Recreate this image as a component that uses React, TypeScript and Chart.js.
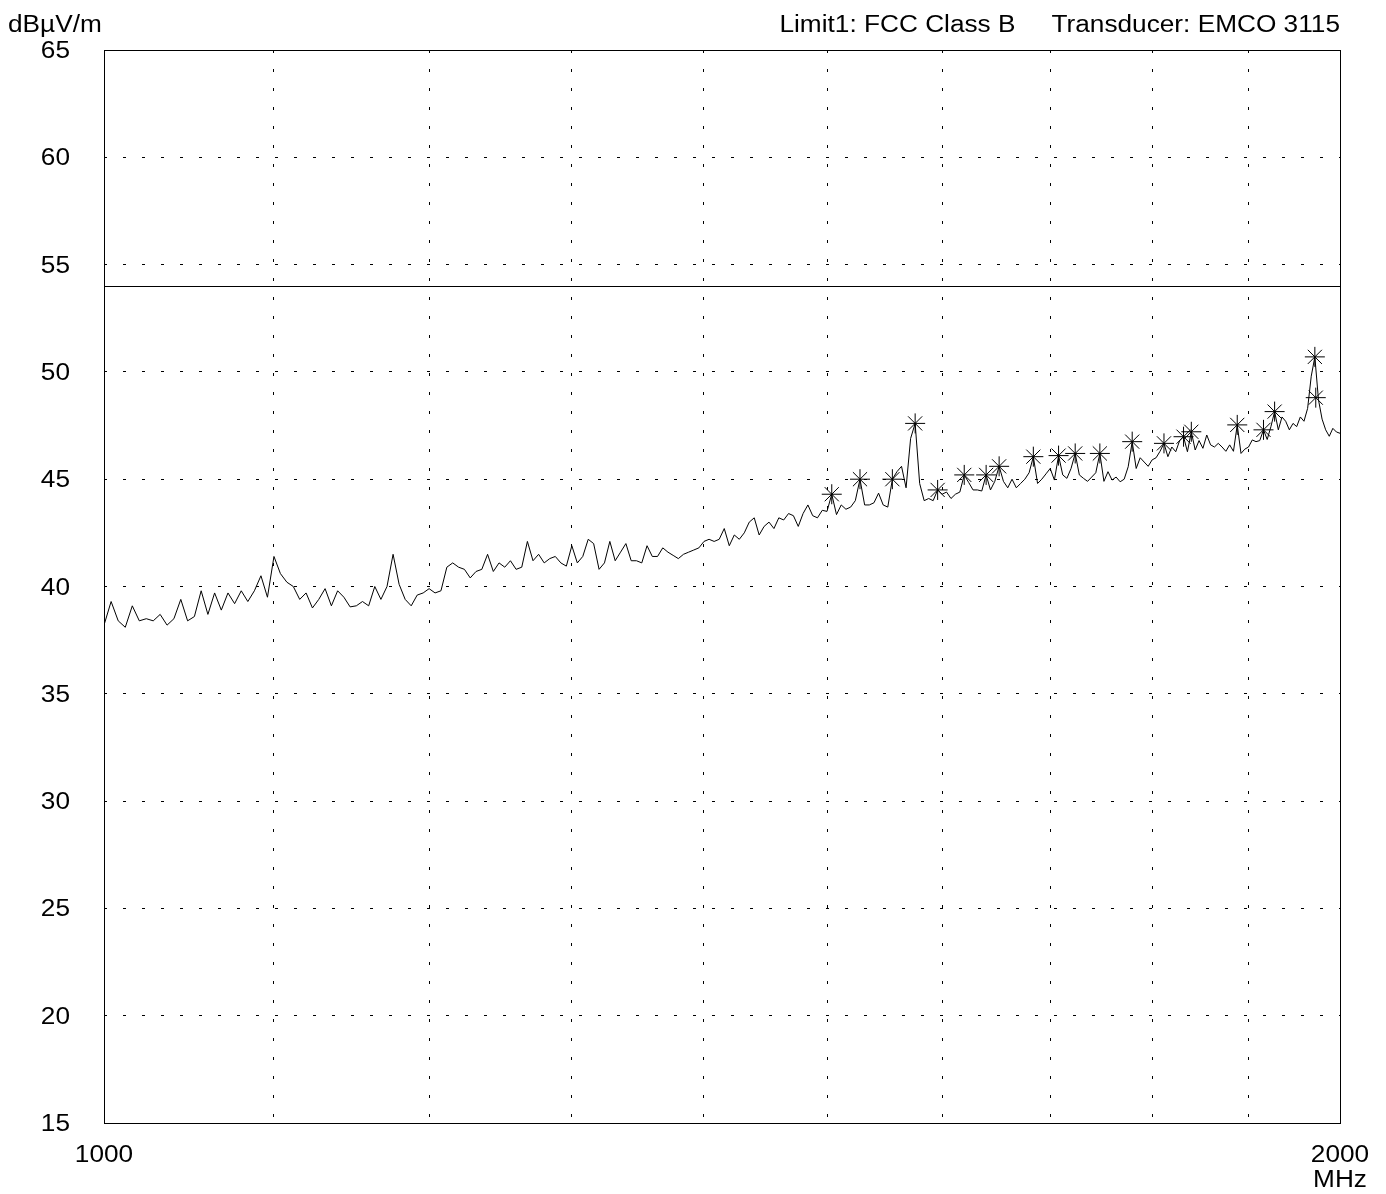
import React, { useEffect, useRef } from "react";
import { Chart, registerables } from "chart.js";

Chart.register(...registerables);

// ---- data ----
const SWEEP_START_MHZ = 1000;
const SWEEP_STEP_MHZ = 4;

// measured level (dBµV/m) every 4 MHz from 1000 to 2000 MHz
const traceDb: number[] = [
  38.2, 39.3, 38.4, 38.1, 39.1, 38.4, 38.5, 38.4, 38.7, 38.2,
  38.5, 39.4, 38.4, 38.6, 39.8, 38.7, 39.7, 38.9, 39.7, 39.2,
  39.8, 39.3, 39.8, 40.5, 39.5, 41.4, 40.6, 40.2, 40.0, 39.4,
  39.7, 39.0, 39.4, 39.9, 39.1, 39.8, 39.5, 39.05, 39.1, 39.3,
  39.1, 40.0, 39.4, 40.0, 41.5, 40.1, 39.4, 39.1, 39.6, 39.7,
  39.9, 39.7, 39.8, 40.9, 41.1, 40.9, 40.8, 40.4, 40.7, 40.8,
  41.5, 40.7, 41.1, 40.9, 41.2, 40.8, 40.9, 42.1, 41.2, 41.5,
  41.1, 41.3, 41.4, 41.1, 40.95, 41.9, 41.1, 41.4, 42.2, 42.0,
  40.8, 41.1, 42.1, 41.2, 41.6, 42.0, 41.2, 41.2, 41.1, 41.9,
  41.4, 41.4, 41.8, 41.6, 41.45, 41.3, 41.5, 41.6, 41.7, 41.8,
  42.1, 42.2, 42.1, 42.2, 42.7, 41.9, 42.4, 42.2, 42.5, 43.0,
  43.2, 42.4, 42.8, 43.0, 42.7, 43.2, 43.1, 43.4, 43.3, 42.8,
  43.4, 43.8, 43.3, 43.2, 43.55, 43.5, 44.3, 43.35, 43.8, 43.6,
  43.7, 44.0, 45.0, 43.8, 43.8, 43.9, 44.35, 43.8, 43.7, 45.0,
  45.35, 45.6, 44.6, 46.9, 47.6, 44.8, 44.0, 44.1, 44.0, 44.5,
  44.3, 44.4, 44.1, 44.3, 44.4, 45.2, 44.85, 44.5, 44.5, 44.45,
  45.2, 44.5, 44.9, 45.6, 44.9, 44.6, 45.0, 44.6, 44.8, 45.0,
  45.3, 46.05, 44.8, 45.0, 45.25, 45.5, 44.96, 46.1, 45.2, 45.04,
  45.5, 46.2, 45.2, 45.04, 44.9, 45.1, 45.3, 46.2, 44.9, 45.35,
  44.96, 45.1, 44.88, 45.0, 45.58, 46.75, 45.5, 46.0, 45.8, 45.6,
  45.9, 46.0, 46.3, 46.67, 46.05, 46.5, 46.28, 46.8, 46.98, 46.28,
  47.21, 46.36, 46.8, 46.44, 47.06, 46.6, 46.5, 46.67, 46.5, 46.3,
  46.6, 46.3, 47.53, 46.2, 46.4, 46.5, 46.83, 46.75, 46.8, 47.3,
  46.85, 47.45, 48.15, 47.3, 47.9, 47.7, 47.3, 47.6, 47.45, 47.9,
  47.7, 48.3, 49.8, 50.7, 48.7, 47.8, 47.3, 47.0, 47.37, 47.2,
  47.14,
];

// peak markers (asterisks)
const markerMHz: number[] = [
  1504, 1528, 1556, 1576, 1596, 1620, 1640, 1652, 1684, 1708, 1724,
  1748, 1780, 1812, 1832, 1840, 1888, 1916, 1928, 1972, 1973,
];
const markerDb: number[] = [
  44.3, 45.0, 45.0, 47.6, 44.5, 45.2, 45.2, 45.6, 46.05, 46.1, 46.2,
  46.2, 46.75, 46.67, 46.98, 47.21, 47.53, 47.3, 48.15, 50.7, 48.8,
];

// limit line FCC Class B
const limitMHz: number[] = [1000, 2000];
const limitDb: number[] = [54, 54];

// axes
const xGridMHz: number[] = [1000, 1100, 1200, 1300, 1400, 1500, 1600, 1700, 1800, 1900, 2000];
const xLabelMHz: number[] = [1000, 2000];
const yTicks: number[] = [15, 20, 25, 30, 35, 40, 45, 50, 55, 60, 65];

const yUnit = "dBµV/m";
const xUnit = "MHz";
const limitTitle = "Limit1: FCC Class B";
const transducerTitle = "Transducer: EMCO 3115";

// ---- rendering ----
const W = 1386;
const H = 1194;
const FONT = "23px 'Liberation Sans', Arial, sans-serif";
const SX = 1.14; // horizontal stretch of lettering
const LIMIT_INDEX = 2;

function drawText(ctx: CanvasRenderingContext2D, text: string, x: number, y: number, align: CanvasTextAlign) {
  ctx.save();
  ctx.translate(x, y);
  ctx.scale(SX, 1);
  ctx.font = FONT;
  ctx.fillStyle = "#000";
  ctx.textAlign = align;
  ctx.textBaseline = "alphabetic";
  ctx.fillText(text, 0, 0);
  ctx.restore();
}

const emcPlugin = {
  id: "emcDecor",
  beforeDatasetDraw(chart: any, args: any) {
    if (args.index !== LIMIT_INDEX) return;
    const c = chart.ctx as CanvasRenderingContext2D;
    const py = chart.scales.y.getPixelForValue(limitDb[0]);
    c.save();
    // snap the horizontal limit line onto a pixel row so it stays crisp
    c.translate(0, Math.floor(py) + 0.5 - py);
  },
  afterDatasetDraw(chart: any, args: any) {
    if (args.index !== LIMIT_INDEX) return;
    (chart.ctx as CanvasRenderingContext2D).restore();
  },
  afterDraw(chart: any) {
    const { ctx, chartArea, scales } = chart;
    const c = ctx as CanvasRenderingContext2D;
    c.save();
    // frame
    c.strokeStyle = "#000";
    c.lineWidth = 1;
    const x0 = Math.floor(chartArea.left) + 0.5;
    const x1 = Math.floor(chartArea.right) + 0.5;
    const y0 = Math.floor(chartArea.top) + 0.5;
    const y1 = Math.floor(chartArea.bottom) + 0.5;
    c.strokeRect(x0, y0, x1 - x0, y1 - y0);

    // y tick labels
    for (const t of scales.y.ticks) {
      const py = scales.y.getPixelForValue(t.value);
      drawText(c, String(t.value), chartArea.left - 34, py + 8, "right");
    }
    // x tick labels
    for (const t of scales.x.ticks) {
      if (!xLabelMHz.includes(t.value)) continue;
      const px = scales.x.getPixelForValue(t.value);
      drawText(c, String(t.value), px, chartArea.bottom + 39, "center");
    }
    drawText(c, xUnit, scales.x.getPixelForValue(2000), chartArea.bottom + 64, "center");

    // header
    drawText(c, yUnit, 8, 32, "left");
    drawText(c, transducerTitle, chartArea.right, 32, "right");
    c.font = FONT;
    const tw = c.measureText(transducerTitle).width * SX;
    drawText(c, limitTitle, chartArea.right - tw - 36, 32, "right");
    c.restore();
  },
};

export default function App() {
  const canvasRef = useRef<HTMLCanvasElement | null>(null);

  useEffect(() => {
    const canvas = canvasRef.current;
    if (!canvas) return;
    const traceMHz = traceDb.map((_, i) => SWEEP_START_MHZ + i * SWEEP_STEP_MHZ);

    const chart = new Chart(canvas, {
      type: "line",
      data: {
        datasets: [
          {
            label: "Markers",
            data: markerMHz.map((x, i) => ({ x, y: markerDb[i] })),
            showLine: false,
            pointStyle: "star",
            pointRadius: 10,
            pointBorderWidth: 1,
            pointBorderColor: "#000",
            pointBackgroundColor: "#000",
            borderColor: "#000",
          },
          {
            label: "Trace",
            data: traceMHz.map((x, i) => ({ x, y: traceDb[i] })),
            borderColor: "#000",
            borderWidth: 1,
            pointRadius: 0,
            tension: 0,
            borderJoinStyle: "round",
            fill: false,
          },
          {
            label: "Limit",
            data: limitMHz.map((x, i) => ({ x, y: limitDb[i] })),
            borderColor: "#000",
            borderWidth: 1,
            pointRadius: 0,
            fill: false,
          },
        ],
      },
      options: {
        responsive: false,
        animation: false,
        devicePixelRatio: 1,
        parsing: false as any,
        normalized: true,
        layout: { padding: { top: 50, right: 46, left: 0, bottom: 0 } },
        plugins: {
          legend: { display: false },
          tooltip: { enabled: false },
          title: { display: false },
        },
        scales: {
          x: {
            type: "logarithmic",
            min: 1000,
            max: 2000,
            afterBuildTicks: (scale: any) => {
              scale.ticks = xGridMHz.map((v) => ({ value: v }));
            },
            afterFit: (scale: any) => {
              scale.height = 71;
            },
            ticks: { display: false, autoSkip: false },
            grid: { color: "#000", lineWidth: 1, drawTicks: false },
            border: { display: false, dash: [3, 16] },
          },
          y: {
            type: "linear",
            min: 15,
            max: 65,
            afterBuildTicks: (scale: any) => {
              scale.ticks = yTicks.map((v) => ({ value: v }));
            },
            afterFit: (scale: any) => {
              scale.width = 104;
            },
            ticks: { display: false },
            grid: { color: "#000", lineWidth: 1, drawTicks: false },
            border: { display: false, dash: [3, 16] },
          },
        },
      },
      plugins: [emcPlugin],
    } as any);

    return () => chart.destroy();
  }, []);

  return (
    <div style={{ position: "fixed", left: 0, top: 0, width: W, height: H, background: "#fff" }}>
      <canvas ref={canvasRef} width={W} height={H} style={{ width: W, height: H, display: "block" }} />
    </div>
  );
}
